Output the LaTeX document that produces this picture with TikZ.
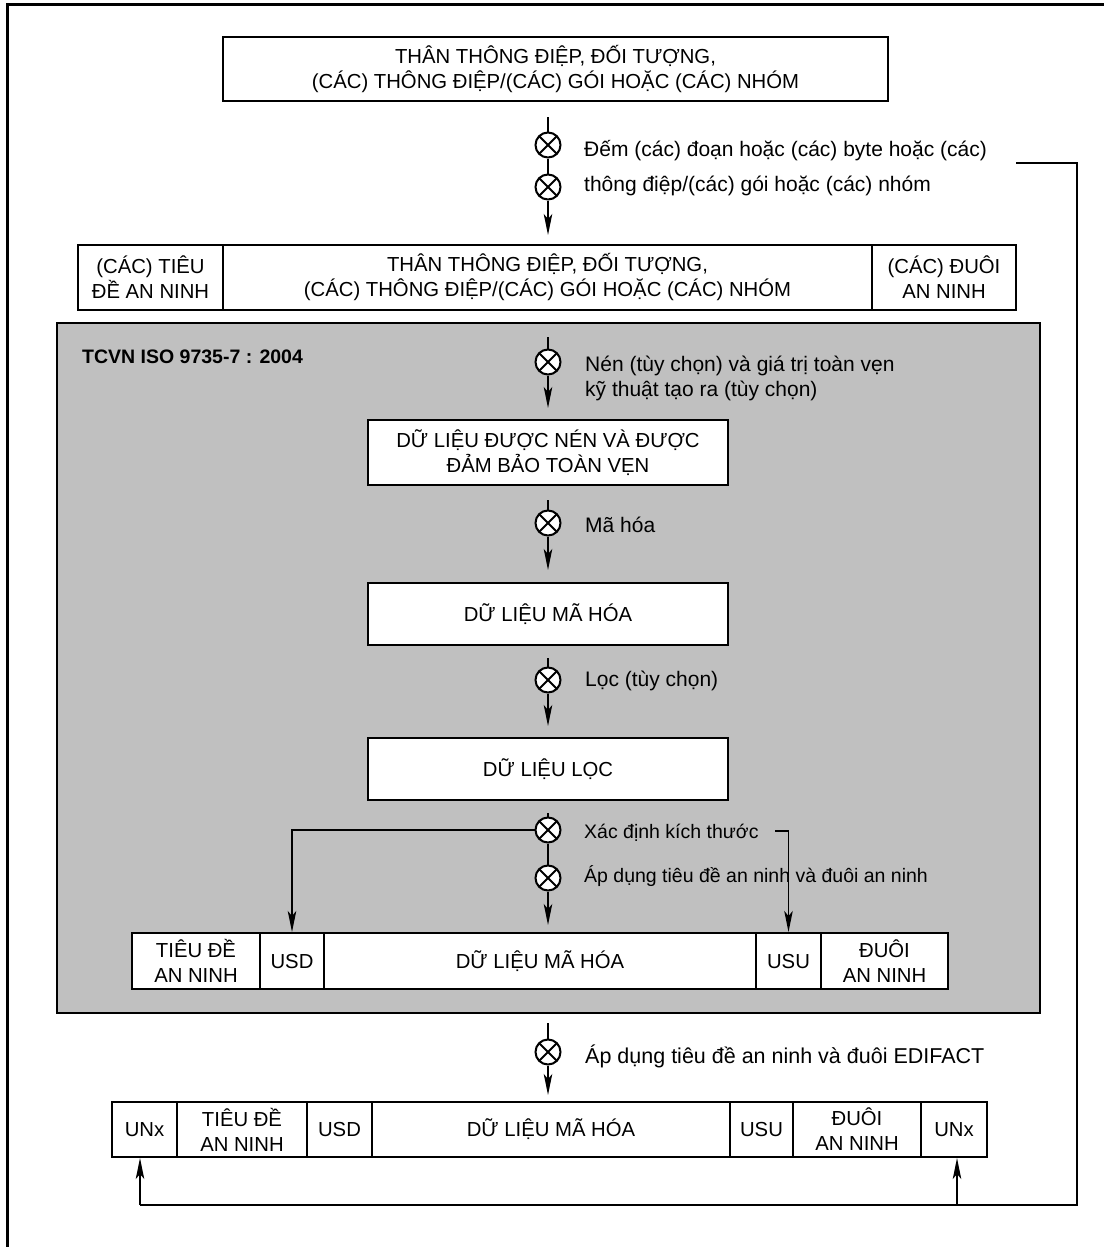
\documentclass[tikz,border=0pt]{standalone}
\usepackage{fontspec}
\setmainfont{Liberation Sans}
\usetikzlibrary{arrows.meta}
\definecolor{panelgray}{RGB}{192,192,192}
\begin{document}
\begin{tikzpicture}[x=1pt,y=-1pt,
  font=\fontsize{20.3}{25}\selectfont,
  box/.style={draw, line width=2pt, fill=white, align=center, inner sep=0pt},
  flow/.style={line width=1.6pt},
  arr/.style={flow, -{Stealth[length=21pt,width=8.5pt,inset=5pt]}},
  opx/.style={circle, draw, line width=2pt, fill=white, minimum size=25pt, inner sep=0pt,
    path picture={\draw[line width=2pt]
      (path picture bounding box.north west) -- (path picture bounding box.south east)
      (path picture bounding box.north east) -- (path picture bounding box.south west);}},
  lbl/.style={anchor=west, inner sep=0pt, font=\fontsize{21}{25}\selectfont},
  smalllbl/.style={lbl, font=\fontsize{19.5}{25}\selectfont},
]
\useasboundingbox (0,0) rectangle (1104,1247);
\fill[white] (0,0) rectangle (1104,1247);
% outer frame
\draw[line width=3pt] (7,1247) -- (7,5) -- (1104,5);

% message body
\node[box, minimum width=665pt, minimum height=64pt] (top) at (555.5,69)
  {THÂN THÔNG ĐIỆP, ĐỐI TƯỢNG,\\(CÁC) THÔNG ĐIỆP/(CÁC) GÓI HOẶC (CÁC) NHÓM};

% counting step
\coordinate (s1) at (548,117);
\node[opx] (o1) at (548,145) {};
\node[opx] (o2) at (548,187) {};
\coordinate (e1) at (548,235);
\draw[flow] (s1) -- (o1);
\draw[flow] (o1) -- (o2);
\draw[arr] (o2) -- (e1);
\node[lbl] (t1) at (584,151) {Đếm (các) đoạn hoặc (các) byte hoặc (các)};
\node[lbl] (t2) at (584,186) {thông điệp/(các) gói hoặc (các) nhóm};

% row with security header / trailer
\node[box, minimum width=145pt, minimum height=65pt] (hdr2) at (150.5,277.5) {(CÁC) TIÊU\\ĐỀ AN NINH};
\node[box, minimum width=649pt, minimum height=65pt] (body2) at (547.5,277.5)
  {THÂN THÔNG ĐIỆP, ĐỐI TƯỢNG,\\(CÁC) THÔNG ĐIỆP/(CÁC) GÓI HOẶC (CÁC) NHÓM};
\node[box, minimum width=144pt, minimum height=65pt] (trl2) at (944,277.5) {(CÁC) ĐUÔI\\AN NINH};

% grey panel
\node[draw, fill=panelgray, line width=2pt, minimum width=983pt, minimum height=690pt, inner sep=0pt] (panel) at (548.5,668) {};
\node[anchor=base west, inner sep=0pt, font=\fontsize{19.5}{25}\selectfont\bfseries] (std) at (82,363) {TCVN ISO 9735-7 : 2004};

% compression / integrity
\coordinate (s2) at (548,337);
\node[opx] (o3) at (548,362) {};
\coordinate (e2) at (548,408);
\draw[flow] (s2) -- (o3);
\draw[arr] (o3) -- (e2);
\node[lbl, align=left] (t3) at (585,378) {Nén (tùy chọn) và giá trị toàn vẹn\\kỹ thuật tạo ra (tùy chọn)};
\node[box, minimum width=360pt, minimum height=65pt] (cmp) at (548,452.5) {DỮ LIỆU ĐƯỢC NÉN VÀ ĐƯỢC\\ĐẢM BẢO TOÀN VẸN};

% encryption
\coordinate (s3) at (548,500);
\node[opx] (o4) at (548,523) {};
\coordinate (e3) at (548,570);
\draw[flow] (s3) -- (o4);
\draw[arr] (o4) -- (e3);
\node[lbl] (t4) at (585,525) {Mã hóa};
\node[box, minimum width=360pt, minimum height=62pt] (enc) at (548,614) {DỮ LIỆU MÃ HÓA};

% filtering
\coordinate (s4) at (548,658);
\node[opx] (o5) at (548,680) {};
\coordinate (e4) at (548,726);
\draw[flow] (s4) -- (o5);
\draw[arr] (o5) -- (e4);
\node[lbl] (t5) at (585,681) {Lọc (tùy chọn)};
\node[box, minimum width=360pt, minimum height=62pt] (flt) at (548,769) {DỮ LIỆU LỌC};

% sizing and security header / trailer
\coordinate (s5) at (548,813);
\node[opx] (o6) at (548,830) {};
\node[opx] (o7) at (548,878) {};
\coordinate (e5) at (548,925);
\draw[flow] (s5) -- (o6);
\draw[flow] (o6) -- (o7);
\draw[arr] (o7) -- (e5);
\node[smalllbl] (t6) at (584,833) {Xác định kích thước};
\node[smalllbl] (t7) at (584,876) {Áp dụng tiêu đề an ninh và đuôi an ninh};

\node[box, minimum width=128pt, minimum height=56pt] (hdr3) at (196,961) {TIÊU ĐỀ\\AN NINH};
\node[box, minimum width=64pt, minimum height=56pt] (usd3) at (292,961) {USD};
\node[box, minimum width=432pt, minimum height=56pt] (data3) at (540,961) {DỮ LIỆU MÃ HÓA};
\node[box, minimum width=65pt, minimum height=56pt] (usu3) at (788.5,961) {USU};
\node[box, minimum width=127pt, minimum height=56pt] (trl3) at (884.5,961) {ĐUÔI\\AN NINH};

\draw[arr] (o6.west) -| (usd3.north);
\coordinate (b0) at (775,831);
\draw[arr] (b0) -| (usu3.north);

% EDIFACT envelope
\coordinate (s6) at (548,1023);
\node[opx] (o8) at (548,1052) {};
\coordinate (e6) at (548,1095);
\draw[flow] (s6) -- (o8);
\draw[arr] (o8) -- (e6);
\node[lbl, font=\fontsize{21.5}{25}\selectfont] (t8) at (585,1056) {Áp dụng tiêu đề an ninh và đuôi EDIFACT};

\node[box, minimum width=65pt, minimum height=55pt] (unxL) at (144.5,1129.5) {UNx};
\node[box, minimum width=130pt, minimum height=55pt] (hdr4) at (242,1129.5) {TIÊU ĐỀ\\AN NINH};
\node[box, minimum width=65pt, minimum height=55pt] (usd4) at (339.5,1129.5) {USD};
\node[box, minimum width=358pt, minimum height=55pt] (data4) at (551,1129.5) {DỮ LIỆU MÃ HÓA};
\node[box, minimum width=63pt, minimum height=55pt] (usu4) at (761.5,1129.5) {USU};
\node[box, minimum width=128pt, minimum height=55pt] (trl4) at (857,1129.5) {ĐUÔI\\AN NINH};
\node[box, minimum width=66pt, minimum height=55pt] (unxR) at (954,1129.5) {UNx};

% count feedback to the service segments
\coordinate (f0) at (1016,163);
\coordinate (f1) at (1077,163);
\coordinate (f2) at (1077,1205);
\coordinate (f3) at (140,1205);
\coordinate (f4) at (957,1205);
\draw[flow] (f0) -- (f1) -- (f2) -- (f3);
\draw[arr] (f3) -- (f3 |- unxL.south);
\draw[arr] (f4) -- (f4 |- unxR.south);
\end{tikzpicture}
\end{document}
